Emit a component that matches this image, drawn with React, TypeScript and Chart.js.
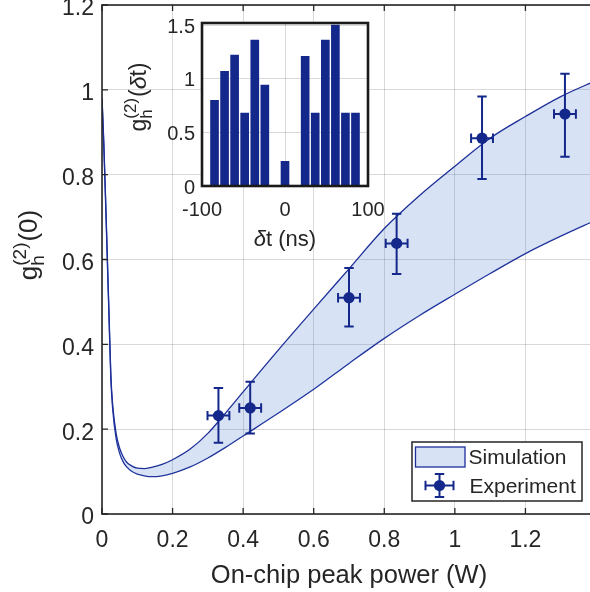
import React, { useEffect, useRef } from "react";
import { Chart, registerables } from "chart.js";

Chart.register(...registerables);

// ---------- Data ----------
// Simulation band (on-chip peak power in W, g2 lower/upper bounds)
const simPower = [0, 0.005, 0.01, 0.015, 0.02, 0.025, 0.03, 0.04, 0.05, 0.06, 0.07, 0.085, 0.1, 0.12, 0.14, 0.17, 0.2, 0.25, 0.3, 0.35, 0.4, 0.5, 0.6, 0.7, 0.8, 0.9, 1.0, 1.1, 1.2, 1.3, 1.4];
const simUpper = [0.98, 0.88, 0.75, 0.61, 0.47, 0.33, 0.26, 0.19, 0.155, 0.135, 0.122, 0.113, 0.108, 0.107, 0.11, 0.117, 0.128, 0.153, 0.19, 0.238, 0.288, 0.387, 0.483, 0.578, 0.673, 0.751, 0.82, 0.886, 0.937, 0.984, 1.022];
const simLower = [0.98, 0.87, 0.74, 0.6, 0.46, 0.32, 0.25, 0.178, 0.143, 0.123, 0.111, 0.1, 0.094, 0.09, 0.088, 0.09, 0.096, 0.111, 0.132, 0.157, 0.184, 0.238, 0.294, 0.355, 0.414, 0.468, 0.518, 0.567, 0.614, 0.655, 0.693];

// Experiment
const expPower = [0.33, 0.42, 0.7, 0.835, 1.077, 1.312];
const expPowerErr = [0.031, 0.031, 0.031, 0.031, 0.031, 0.031];
const expG2 = [0.232, 0.25, 0.51, 0.638, 0.886, 0.943];
const expG2Low = [0.168, 0.19, 0.442, 0.566, 0.79, 0.842];
const expG2High = [0.297, 0.312, 0.58, 0.708, 0.984, 1.038];

const xTicks = [0, 0.2, 0.4, 0.6, 0.8, 1, 1.2];
const yTicks = [0, 0.2, 0.4, 0.6, 0.8, 1, 1.2];

// Inset: g2(dt) histogram
const insetDelay = [-84.9, -72.8, -60.7, -48.6, -36.4, -24.3, 0, 24.3, 36.4, 48.6, 60.7, 72.8, 84.9];
const insetG2 = [0.8, 1.07, 1.22, 0.68, 1.36, 0.94, 0.23, 1.21, 0.68, 1.36, 1.5, 0.68, 0.68];
const insetXTicks = [-100, 0, 100];
const insetYTicks = [0, 0.5, 1, 1.5];

// ---------- Styles ----------
const FONT = "'Liberation Sans', Arial, Helvetica, sans-serif";
const AXIS = "#262626";
const NAVY = "#13288a";
const LINE = "#1d2f98";
const BAND = "rgba(60,110,205,0.2)";
const BAND_SOLID = "#d8e2f5";
const GRID = "rgba(0,0,0,0.15)";

type Seg = { t: string; italic?: boolean };

function segWidth(ctx: CanvasRenderingContext2D, segs: Seg[], size: number) {
  let w = 0;
  for (const s of segs) {
    ctx.font = `${s.italic ? "italic " : ""}${size}px ${FONT}`;
    w += ctx.measureText(s.t).width;
  }
  return w;
}

function drawSegs(ctx: CanvasRenderingContext2D, segs: Seg[], size: number, x: number, y: number) {
  let cx = x;
  for (const s of segs) {
    ctx.font = `${s.italic ? "italic " : ""}${size}px ${FONT}`;
    ctx.fillText(s.t, cx, y);
    cx += ctx.measureText(s.t).width;
  }
  return cx;
}

// Rotated g_h^(2)(...) label, (x, y) = baseline centre on screen
function drawGLabel(ctx: CanvasRenderingContext2D, x: number, y: number, main: number, small: number, tail: Seg[]) {
  ctx.save();
  ctx.translate(x, y);
  ctx.rotate(-Math.PI / 2);
  ctx.fillStyle = AXIS;
  ctx.textAlign = "left";
  ctx.textBaseline = "alphabetic";
  const wg = segWidth(ctx, [{ t: "g" }], main);
  const ws = Math.max(segWidth(ctx, [{ t: "h" }], small), segWidth(ctx, [{ t: "(2)" }], small));
  const wt = segWidth(ctx, tail, main);
  const total = wg + ws + wt + 1;
  let cx = -total / 2;
  cx = drawSegs(ctx, [{ t: "g" }], main, cx, 0);
  drawSegs(ctx, [{ t: "h" }], small, cx, main * 0.25);
  drawSegs(ctx, [{ t: "(2)" }], small, cx, -main * 0.42);
  cx += ws + 1;
  drawSegs(ctx, tail, main, cx, 0);
  ctx.restore();
}

function drawErrMarker(ctx: CanvasRenderingContext2D, px: number, py: number, xl: number, xr: number, yt: number, yb: number) {
  const cap = 4.7;
  ctx.beginPath();
  ctx.moveTo(px, yt);
  ctx.lineTo(px, yb);
  ctx.moveTo(px - cap, yt);
  ctx.lineTo(px + cap, yt);
  ctx.moveTo(px - cap, yb);
  ctx.lineTo(px + cap, yb);
  ctx.moveTo(xl, py);
  ctx.lineTo(xr, py);
  ctx.moveTo(xl, py - cap);
  ctx.lineTo(xl, py + cap);
  ctx.moveTo(xr, py - cap);
  ctx.lineTo(xr, py + cap);
  ctx.stroke();
  ctx.beginPath();
  ctx.arc(px, py, 5.6, 0, Math.PI * 2);
  ctx.fill();
}

const fmt = (v: number) => String(Math.round(v * 10) / 10);

const zeroPad = (s: any) => {
  s.paddingTop = 0;
  s.paddingBottom = 0;
  s.paddingLeft = 0;
  s.paddingRight = 0;
};

export default function App() {
  const mainRef = useRef<HTMLCanvasElement>(null);
  const insetRef = useRef<HTMLCanvasElement>(null);

  useEffect(() => {
    const mainPlugin = {
      id: "mainDecor",
      afterDatasetsDraw(chart: any) {
        const ctx: CanvasRenderingContext2D = chart.ctx;
        const xs = chart.scales.x;
        const ys = chart.scales.y;
        ctx.save();
        ctx.strokeStyle = NAVY;
        ctx.fillStyle = NAVY;
        ctx.lineWidth = 2;
        for (let i = 0; i < expPower.length; i++) {
          drawErrMarker(
            ctx,
            xs.getPixelForValue(expPower[i]),
            ys.getPixelForValue(expG2[i]),
            xs.getPixelForValue(expPower[i] - expPowerErr[i]),
            xs.getPixelForValue(expPower[i] + expPowerErr[i]),
            ys.getPixelForValue(expG2High[i]),
            ys.getPixelForValue(expG2Low[i])
          );
        }
        ctx.restore();
      },
      afterDraw(chart: any) {
        const ctx: CanvasRenderingContext2D = chart.ctx;
        const a = chart.chartArea;
        const xs = chart.scales.x;
        const ys = chart.scales.y;
        ctx.save();
        // box + inward ticks
        ctx.strokeStyle = AXIS;
        ctx.lineWidth = 1.6;
        ctx.strokeRect(a.left, a.top, a.right - a.left, a.bottom - a.top);
        ctx.lineWidth = 1.3;
        ctx.beginPath();
        for (const v of xTicks) {
          const p = xs.getPixelForValue(v);
          ctx.moveTo(p, a.bottom);
          ctx.lineTo(p, a.bottom - 6);
          ctx.moveTo(p, a.top);
          ctx.lineTo(p, a.top + 6);
        }
        for (const v of yTicks) {
          const p = ys.getPixelForValue(v);
          ctx.moveTo(a.left, p);
          ctx.lineTo(a.left + 6, p);
          ctx.moveTo(a.right, p);
          ctx.lineTo(a.right - 6, p);
        }
        ctx.stroke();

        // x title
        ctx.fillStyle = AXIS;
        ctx.font = `25.5px ${FONT}`;
        ctx.textAlign = "center";
        ctx.textBaseline = "middle";
        ctx.fillText("On-chip peak power (W)", (a.left + a.right) / 2, 576);

        // y title
        drawGLabel(ctx, 37, 245, 26, 19, [{ t: "(0)" }]);

        // legend
        const L = { x: 412, y: 442, w: 170, h: 59 };
        ctx.fillStyle = "#ffffff";
        ctx.fillRect(L.x, L.y, L.w, L.h);
        ctx.strokeStyle = AXIS;
        ctx.lineWidth = 1.5;
        ctx.strokeRect(L.x, L.y, L.w, L.h);
        ctx.fillStyle = BAND_SOLID;
        ctx.fillRect(415.5, 447, 49.5, 20);
        ctx.strokeStyle = LINE;
        ctx.lineWidth = 1.3;
        ctx.strokeRect(415.5, 447, 49.5, 20);
        ctx.strokeStyle = NAVY;
        ctx.fillStyle = NAVY;
        ctx.lineWidth = 2;
        drawErrMarker(ctx, 439.5, 485.5, 425.5, 453.5, 474, 497);
        ctx.fillStyle = AXIS;
        ctx.font = `21px ${FONT}`;
        ctx.textAlign = "left";
        ctx.textBaseline = "middle";
        ctx.fillText("Simulation", 468.5, 458);
        ctx.fillText("Experiment", 469.5, 487);
        ctx.restore();
      },
    };

    const main = new Chart(mainRef.current!, {
      type: "line",
      data: {
        datasets: [
          {
            label: "Simulation",
            data: simPower.map((x, i) => ({ x, y: simUpper[i] })),
            borderColor: LINE,
            borderWidth: 1.3,
            pointRadius: 0,
            fill: "+1",
            backgroundColor: BAND,
            cubicInterpolationMode: "monotone",
          },
          {
            label: "Simulation lower",
            data: simPower.map((x, i) => ({ x, y: simLower[i] })),
            borderColor: LINE,
            borderWidth: 1.3,
            pointRadius: 0,
            fill: false,
            cubicInterpolationMode: "monotone",
          },
          {
            label: "Experiment",
            data: expPower.map((x, i) => ({ x, y: expG2[i] })),
            showLine: false,
            pointRadius: 0,
            borderColor: NAVY,
            backgroundColor: NAVY,
          },
        ],
      },
      options: {
        animation: false,
        responsive: false,
        devicePixelRatio: 1,
        layout: { padding: { left: 0, right: 4, top: 5, bottom: 0 }, autoPadding: false },
        plugins: { legend: { display: false }, tooltip: { enabled: false } },
        scales: {
          x: {
            type: "linear",
            min: 0,
            max: 1.4,
            afterBuildTicks: (s: any) => {
              s.ticks = xTicks.map((v) => ({ value: v }));
            },
            afterFit: (s: any) => {
              s.height = 78;
              zeroPad(s);
            },
            ticks: {
              font: { family: FONT, size: 23 },
              color: AXIS,
              padding: 13,
              maxRotation: 0,
              autoSkip: false,
              callback: (v: any) => fmt(Number(v)),
            },
            grid: { color: GRID, lineWidth: 1, drawTicks: false },
            border: { display: false },
          },
          y: {
            type: "linear",
            min: 0,
            max: 1.2,
            afterBuildTicks: (s: any) => {
              s.ticks = yTicks.map((v) => ({ value: v }));
            },
            afterFit: (s: any) => {
              s.width = 102;
              zeroPad(s);
            },
            ticks: {
              font: { family: FONT, size: 23 },
              color: AXIS,
              padding: 8,
              labelOffset: 4,
              autoSkip: false,
              callback: (v: any) => fmt(Number(v)),
            },
            grid: { color: GRID, lineWidth: 1, drawTicks: false },
            border: { display: false },
          },
        },
      } as any,
      plugins: [mainPlugin],
    });

    const insetPlugin = {
      id: "insetDecor",
      beforeDraw(chart: any) {
        const ctx: CanvasRenderingContext2D = chart.ctx;
        const a = chart.chartArea;
        ctx.save();
        ctx.fillStyle = "#ffffff";
        ctx.fillRect(a.left, a.top, a.right - a.left, a.bottom - a.top);
        ctx.restore();
      },
      afterDraw(chart: any) {
        const ctx: CanvasRenderingContext2D = chart.ctx;
        const a = chart.chartArea;
        ctx.save();
        ctx.strokeStyle = "#1a1a1a";
        ctx.lineWidth = 2.6;
        ctx.strokeRect(a.left, a.top, a.right - a.left, a.bottom - a.top);
        // titles
        ctx.fillStyle = AXIS;
        ctx.textAlign = "left";
        ctx.textBaseline = "middle";
        const segs: Seg[] = [{ t: "\u03B4", italic: true }, { t: "t (ns)" }];
        const w = segWidth(ctx, segs, 22);
        drawSegs(ctx, segs, 22, (a.left + a.right) / 2 - w / 2, 240);
        drawGLabel(ctx, 146, 97, 23, 17, [{ t: "(" }, { t: "\u03B4", italic: true }, { t: "t)" }]);
        ctx.restore();
      },
    };

    const inset = new Chart(insetRef.current!, {
      type: "bar",
      data: {
        datasets: [
          {
            label: "g2(dt)",
            data: insetDelay.map((x, i) => ({ x, y: insetG2[i] })),
            backgroundColor: NAVY,
            borderWidth: 0,
            barThickness: 8,
          },
        ],
      },
      options: {
        animation: false,
        responsive: false,
        devicePixelRatio: 1,
        layout: { padding: { left: 152, right: 222, top: 23, bottom: 346 }, autoPadding: false },
        plugins: { legend: { display: false }, tooltip: { enabled: false } },
        scales: {
          x: {
            type: "linear",
            min: -100,
            max: 100,
            offset: false,
            afterBuildTicks: (s: any) => {
              s.ticks = insetXTicks.map((v) => ({ value: v }));
            },
            afterFit: (s: any) => {
              s.height = 60;
              zeroPad(s);
            },
            ticks: {
              font: { family: FONT, size: 20 },
              color: AXIS,
              padding: 12,
              maxRotation: 0,
              autoSkip: false,
              callback: (v: any) => String(v),
            },
            grid: { color: GRID, lineWidth: 1, drawTicks: false, offset: false },
            border: { display: false },
          },
          y: {
            type: "linear",
            min: 0,
            max: 1.52,
            afterBuildTicks: (s: any) => {
              s.ticks = insetYTicks.map((v) => ({ value: v }));
            },
            afterFit: (s: any) => {
              s.width = 50;
              zeroPad(s);
            },
            ticks: {
              font: { family: FONT, size: 20 },
              color: AXIS,
              padding: 7,
              labelOffset: 2,
              autoSkip: false,
              callback: (v: any) => String(v),
            },
            grid: { color: GRID, lineWidth: 1, drawTicks: false },
            border: { display: false },
          },
        },
      } as any,
      plugins: [insetPlugin],
    });

    return () => {
      main.destroy();
      inset.destroy();
    };
  }, []);

  return (
    <div style={{ position: "absolute", left: 0, top: 0, width: 590, height: 592, overflow: "hidden", background: "#fff" }}>
      <canvas ref={mainRef} width={600} height={592} style={{ position: "absolute", left: 0, top: 0 }} />
      <canvas ref={insetRef} width={590} height={592} style={{ position: "absolute", left: 0, top: 0 }} />
    </div>
  );
}
